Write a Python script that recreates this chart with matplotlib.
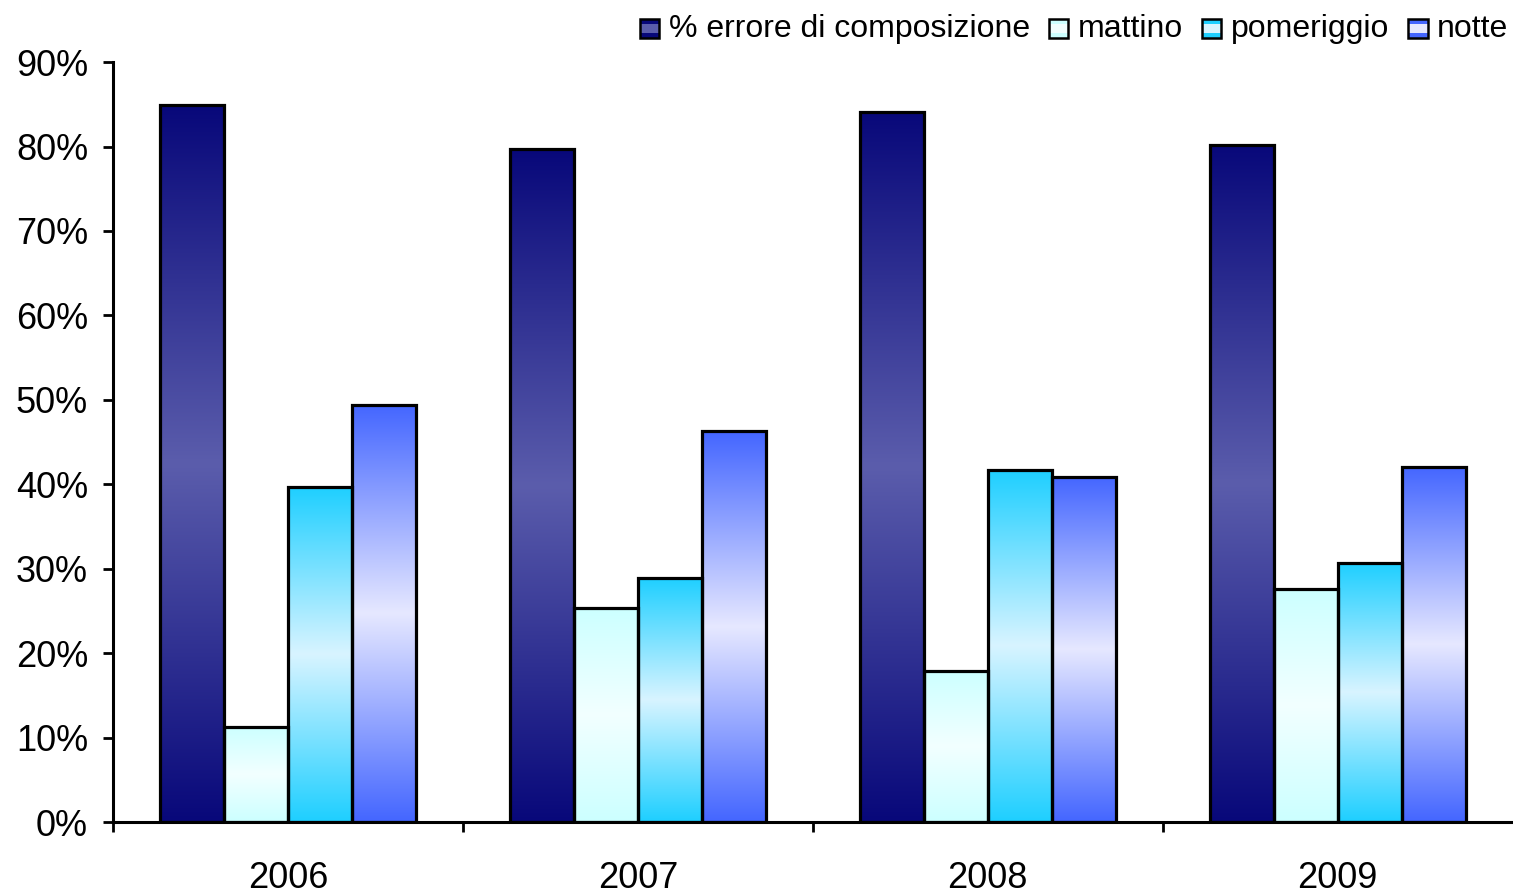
import matplotlib

matplotlib.use("Agg")

import matplotlib.pyplot as plt
import numpy as np
from matplotlib.colors import LinearSegmentedColormap
from matplotlib.legend_handler import HandlerBase
from matplotlib.patches import Rectangle
from matplotlib.ticker import FixedLocator, PercentFormatter

# --- dati ---
YEARS = ["2006", "2007", "2008", "2009"]
SERIES = ["% errore di composizione", "mattino", "pomeriggio", "notte"]
ERRORE = [84.9, 79.7, 84.1, 80.2]
MATTINO = [11.3, 25.4, 17.9, 27.6]
POMERIGGIO = [39.7, 28.9, 41.7, 30.7]
NOTTE = [49.4, 46.3, 40.9, 42.1]

# colori (estremi, centro) del gradiente speculare di ciascuna serie
GRADIENTS = [
    ("#08087a", "#5b5dac"),
    ("#ccffff", "#f2ffff"),
    ("#1ecfff", "#d8f4ff"),
    ("#4466ff", "#e6e8ff"),
]

plt.rcParams["font.family"] = ["Liberation Sans", "DejaVu Sans"]

BAR_WIDTH = 0.183
EDGE_WIDTH = 2.3


def make_cmap(end_color: str, mid_color: str) -> LinearSegmentedColormap:
    return LinearSegmentedColormap.from_list("g", [mid_color, end_color])


def draw_gradient_bar(ax, x_center, height, cmap):
    x0 = x_center - BAR_WIDTH / 2
    x1 = x_center + BAR_WIDTH / 2
    grad = np.abs(np.linspace(-1, 1, 256)).reshape(-1, 1)
    ax.imshow(
        grad,
        extent=[x0, x1, 0, height],
        origin="lower",
        cmap=cmap,
        vmin=0,
        vmax=1,
        aspect="auto",
        interpolation="bilinear",
        zorder=2,
    )
    ax.add_patch(
        Rectangle(
            (x0, 0),
            BAR_WIDTH,
            height,
            fill=False,
            edgecolor="black",
            linewidth=EDGE_WIDTH,
            zorder=3,
        )
    )


class GradientHandler(HandlerBase):
    def __init__(self, end_color, mid_color):
        super().__init__()
        self.end_color = end_color
        self.mid_color = mid_color

    def create_artists(self, legend, orig_handle, xdescent, ydescent, width, height, fontsize, trans):
        size = min(width, height)
        x0 = xdescent + (width - size) / 2
        y0 = ydescent + (height - size) / 2 - height * 0.05
        artists = []
        colors = [self.end_color, self.mid_color, self.mid_color, self.end_color]
        step = size / len(colors)
        for i, color in enumerate(colors):
            artists.append(
                Rectangle((x0, y0 + i * step), size, step, facecolor=color, edgecolor="none", transform=trans)
            )
        artists.append(
            Rectangle((x0, y0), size, size, fill=False, edgecolor="black", linewidth=1.8, transform=trans)
        )
        return artists


fig = plt.figure(figsize=(15.13, 8.94), dpi=100)
ax = fig.add_axes([0.0747, 0.0805, 0.925, 0.850])

values = [ERRORE, MATTINO, POMERIGGIO, NOTTE]
x = np.arange(len(YEARS))
offsets = (np.arange(len(SERIES)) - 1.5) * BAR_WIDTH

for series_values, offset, (end_color, mid_color) in zip(values, offsets, GRADIENTS):
    cmap = make_cmap(end_color, mid_color)
    for xi, value in zip(x, series_values):
        draw_gradient_bar(ax, xi + offset, value, cmap)

ax.set_xlim(-0.5, 3.5)
ax.set_ylim(0, 90)

ax.yaxis.set_major_locator(FixedLocator(np.arange(0, 91, 10)))
ax.yaxis.set_major_formatter(PercentFormatter(decimals=0))
ax.tick_params(axis="y", direction="out", length=7, width=2.0, pad=11, labelsize=26)

ax.xaxis.set_major_locator(FixedLocator([-0.5, 0.5, 1.5, 2.5]))
ax.xaxis.set_major_formatter(plt.NullFormatter())
ax.xaxis.set_minor_locator(FixedLocator(x))
ax.set_xticklabels(YEARS, minor=True)
ax.tick_params(axis="x", which="major", direction="out", length=7, width=2.0)
ax.tick_params(axis="x", which="minor", length=0, pad=28, labelsize=26)

for side in ("top", "right"):
    ax.spines[side].set_visible(False)
for side in ("left", "bottom"):
    ax.spines[side].set_linewidth(2.2)
    ax.spines[side].set_zorder(4)

handles = [Rectangle((0, 0), 1, 1) for _ in SERIES]
handler_map = {h: GradientHandler(e, m) for h, (e, m) in zip(handles, GRADIENTS)}
fig.legend(
    handles,
    SERIES,
    handler_map=handler_map,
    loc="center right",
    bbox_to_anchor=(0.997, 0.968),
    ncol=4,
    frameon=False,
    fontsize=23,
    handlelength=0.6,
    handleheight=0.6,
    handletextpad=0.3,
    columnspacing=0.6,
    borderpad=0.0,
    borderaxespad=0.0,
)

fig.savefig("out.png", dpi=100)
